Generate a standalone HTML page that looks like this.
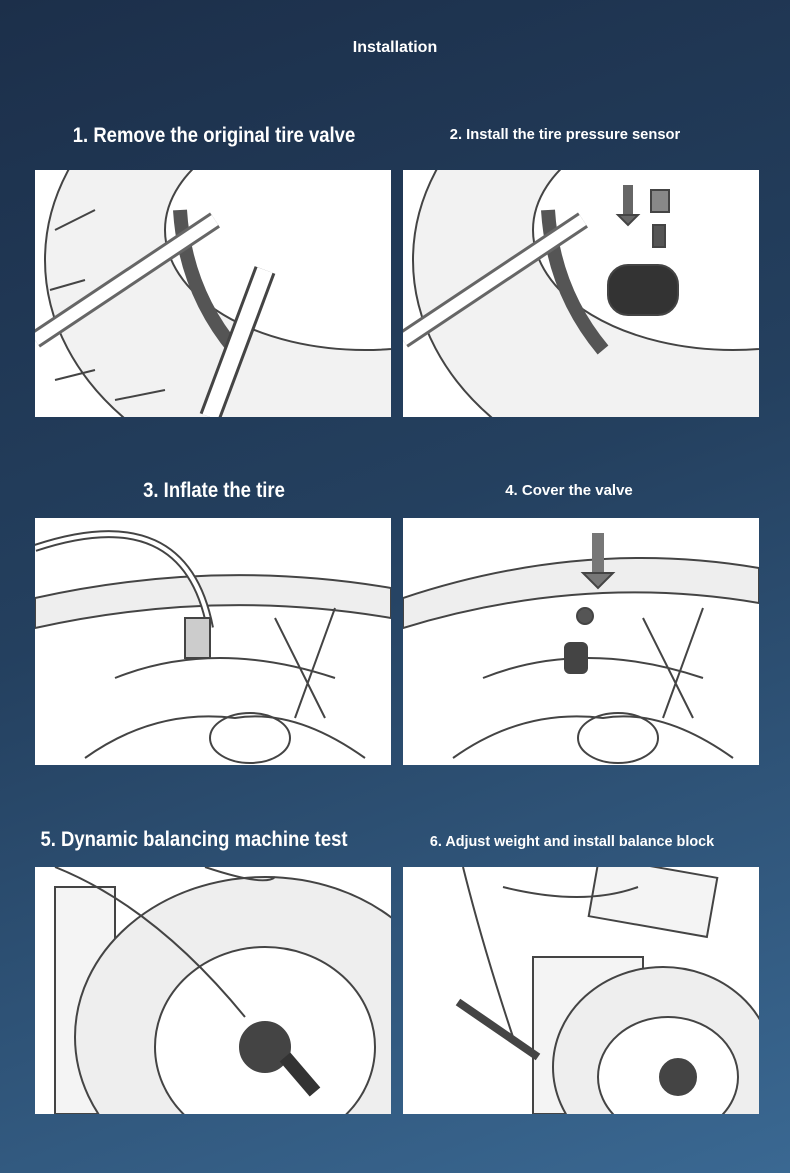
<!DOCTYPE html>
<html><head><meta charset="utf-8"><style>
body{margin:0;width:790px;height:1173px;overflow:hidden;background:linear-gradient(160deg,#1c2f4a 0%,#24405f 45%,#3a6892 100%);font-family:"Liberation Sans",sans-serif;color:#fff;position:relative}
.t{position:absolute;white-space:nowrap;transform:translateX(-50%);font-weight:bold}
.n{transform:translateX(-50%) scaleX(0.88)}
.p{position:absolute;width:356px;height:247px;background:#fff;overflow:hidden}
.p svg{width:100%;height:100%}
</style></head><body>
<div class="t" style="left:395px;top:39px;font-size:16px">Installation</div>
<div class="t n" style="left:214px;top:124px;font-size:21px">1. Remove the original tire valve</div>
<div class="t" style="left:565px;top:126px;font-size:15px;transform:translateX(-50%) scaleX(0.98)">2. Install the tire pressure sensor</div>
<div class="t n" style="left:214px;top:479px;font-size:21px">3. Inflate the tire</div>
<div class="t" style="left:569px;top:482px;font-size:15px">4. Cover the valve</div>
<div class="t n" style="left:194px;top:828px;font-size:21px">5. Dynamic balancing machine test</div>
<div class="t" style="left:572px;top:833px;font-size:15px;transform:translateX(-50%) scaleX(0.96)">6. Adjust weight and install balance block</div>

<div class="p" style="left:35px;top:170px"><svg viewBox="0 0 356 247" fill="none" stroke="#444" stroke-width="2">
<ellipse cx="330" cy="90" rx="320" ry="240" fill="#f2f2f2"/><ellipse cx="330" cy="60" rx="200" ry="120" fill="#fff"/>
<path d="M145 40 Q150 120 200 180" stroke-width="14" stroke="#555"/>
<path d="M0 170 L180 50" stroke-width="18" stroke="#666"/><path d="M0 170 L180 50" stroke-width="12" stroke="#fff"/>
<path d="M230 100 L175 247" stroke-width="22" stroke="#444"/><path d="M230 100 L175 247" stroke-width="16" stroke="#fff"/>
<path d="M20 60 L60 40 M15 120 L50 110 M20 210 L60 200 M80 230 L130 220"/></svg></div>

<div class="p" style="left:403px;top:170px"><svg viewBox="0 0 356 247" fill="none" stroke="#444" stroke-width="2">
<ellipse cx="330" cy="90" rx="320" ry="240" fill="#f2f2f2"/><ellipse cx="330" cy="60" rx="200" ry="120" fill="#fff"/>
<path d="M145 40 Q150 120 200 180" stroke-width="14" stroke="#555"/>
<path d="M0 170 L180 50" stroke-width="18" stroke="#666"/><path d="M0 170 L180 50" stroke-width="12" stroke="#fff"/>
<rect x="205" y="95" width="70" height="50" rx="20" fill="#333"/>
<path d="M225 15 L225 45" stroke-width="10" stroke="#666"/><path d="M215 45 L235 45 L225 55Z" fill="#666"/>
<rect x="248" y="20" width="18" height="22" fill="#888"/><rect x="250" y="55" width="12" height="22" fill="#555"/></svg></div>

<div class="p" style="left:35px;top:518px"><svg viewBox="0 0 356 247" fill="none" stroke="#444" stroke-width="2">
<path d="M0 80 Q180 40 356 70 L356 100 Q180 70 0 110Z" fill="#eee"/>
<path d="M0 30 Q150 -20 175 110" stroke-width="8"/><path d="M0 30 Q150 -20 175 110" stroke-width="4" stroke="#fff"/>
<rect x="150" y="100" width="25" height="40" fill="#ccc"/>
<path d="M80 160 Q180 120 300 160 M50 240 Q120 190 200 200 Q260 190 330 240 M240 100 L290 200 M300 90 L260 200"/>
<ellipse cx="215" cy="220" rx="40" ry="25"/></svg></div>

<div class="p" style="left:403px;top:518px"><svg viewBox="0 0 356 247" fill="none" stroke="#444" stroke-width="2">
<path d="M0 80 Q180 20 356 50 L356 85 Q180 55 0 110Z" fill="#eee"/>
<path d="M195 15 L195 55" stroke-width="12" stroke="#777"/><path d="M180 55 L210 55 L195 70Z" fill="#777"/>
<circle cx="182" cy="98" r="8" fill="#555"/><rect x="162" y="125" width="22" height="30" rx="5" fill="#444"/>
<path d="M80 160 Q180 120 300 160 M50 240 Q120 190 200 200 Q260 190 330 240 M240 100 L290 200 M300 90 L260 200"/>
<ellipse cx="215" cy="220" rx="40" ry="25"/></svg></div>

<div class="p" style="left:35px;top:867px"><svg viewBox="0 0 356 247" fill="none" stroke="#444" stroke-width="2">
<rect x="20" y="20" width="60" height="227" fill="#f4f4f4"/>
<ellipse cx="230" cy="170" rx="190" ry="160" fill="#eee"/><ellipse cx="230" cy="180" rx="110" ry="100" fill="#fff"/>
<circle cx="230" cy="180" r="25" fill="#444"/>
<path d="M250 190 L280 225" stroke-width="14" stroke="#333"/>
<path d="M20 0 Q120 40 210 150 M170 0 Q230 20 240 10"/></svg></div>

<div class="p" style="left:403px;top:867px"><svg viewBox="0 0 356 247" fill="none" stroke="#444" stroke-width="2">
<rect x="190" y="0" width="120" height="60" fill="#f4f4f4" transform="rotate(10 250 30)"/>
<rect x="130" y="90" width="110" height="157" fill="#f4f4f4"/>
<ellipse cx="260" cy="200" rx="110" ry="100" fill="#eee"/><ellipse cx="265" cy="210" rx="70" ry="60" fill="#fff"/>
<circle cx="275" cy="210" r="18" fill="#444"/>
<path d="M55 135 L135 190" stroke-width="8"/>
<path d="M60 0 Q80 80 110 170 M100 20 Q180 40 235 20"/></svg></div>
</body></html>
